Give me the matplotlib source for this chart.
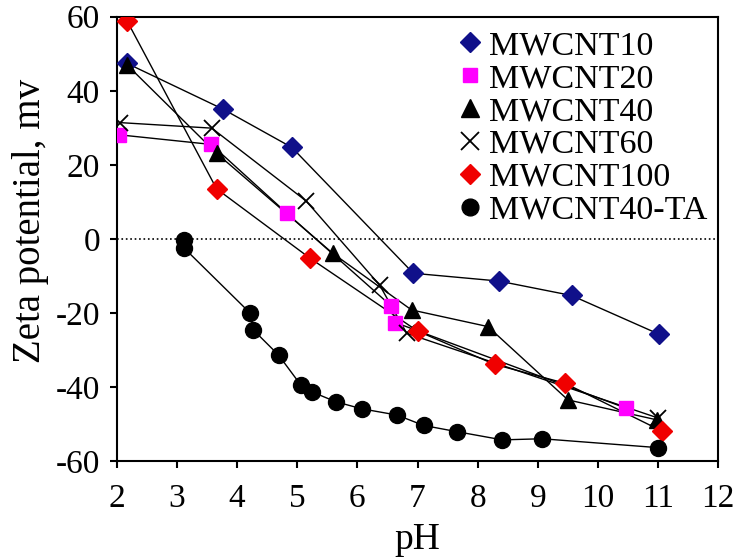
import matplotlib
matplotlib.use('Agg')
import matplotlib.pyplot as plt
from matplotlib.lines import Line2D

plt.rcParams['font.family'] = ['Liberation Serif', 'DejaVu Serif']
plt.rcParams['axes.unicode_minus'] = False

# pH values and zeta potential (mV)
ph_10 = [2.17, 3.77, 4.91, 6.93, 8.35, 9.56, 11.02]
zeta_10 = [47.4, 35.0, 24.7, -9.3, -11.4, -15.3, -25.8]

ph_20 = [2.04, 3.57, 4.83, 6.56, 6.63, 10.46]
zeta_20 = [28.1, 25.5, 6.9, -18.1, -22.6, -45.7]

ph_40 = [2.17, 3.66, 5.59, 6.90, 8.17, 9.50, 10.98]
zeta_40 = [47.0, 23.1, -3.9, -19.2, -23.7, -43.5, -48.9]

ph_60 = [2.05, 3.58, 5.15, 6.37, 6.82, 11.0]
zeta_60 = [31.4, 29.9, 10.2, -12.5, -25.5, -48.4]

ph_100 = [2.17, 3.66, 5.21, 7.0, 8.28, 9.45, 11.06]
zeta_100 = [58.9, 13.5, -5.2, -24.9, -33.9, -39.0, -51.9]

ph_ta = [3.12, 3.12, 4.22, 4.27, 4.69, 5.06, 5.24, 5.64, 6.07, 6.66, 7.10,
         7.66, 8.41, 9.07, 11.0]
zeta_ta = [-0.3, -2.5, -20.1, -24.6, -31.4, -39.5, -41.3, -44.0, -45.9, -47.6,
           -50.4, -52.1, -54.3, -54.0, -56.4]

labels = ['MWCNT10', 'MWCNT20', 'MWCNT40', 'MWCNT60', 'MWCNT100', 'MWCNT40-TA']

fig = plt.figure(figsize=(7.39, 5.57), dpi=100)
ax = fig.add_axes([0.158, 0.1724, 0.814, 0.7976])

ax.axhline(0, color='black', linestyle=':', linewidth=1.2, zorder=1)

# x, y, marker, size, colour, edge width
series = [
    (ph_10, zeta_10, 'D', 10, '#10108a', 1),
    (ph_20, zeta_20, 's', 10, '#ff00ff', 1),
    (ph_40, zeta_40, '^', 12, 'black', 1),
    (ph_60, zeta_60, 'x', 12, 'black', 1.3),
    (ph_100, zeta_100, 'D', 10, '#f00000', 1),
    (ph_ta, zeta_ta, 'o', 11.5, 'black', 1),
]

handles = []
for (x, y, m, ms, c, mew), lab in zip(series, labels):
    ax.plot(x, y, color='black', linewidth=1.0, zorder=2)
    if m == 'x':
        ax.plot(x, y, linestyle='none', marker=m, markersize=ms,
                markeredgecolor=c, markeredgewidth=mew, zorder=3)
    else:
        ax.plot(x, y, linestyle='none', marker=m, markersize=ms,
                markerfacecolor=c, markeredgecolor=c, zorder=3)
    handles.append(Line2D([], [], linestyle='none', marker=m, markersize=ms * 1.05,
                          markerfacecolor=c, markeredgecolor=c,
                          markeredgewidth=mew, label=lab))

ax.set_xlim(2, 12)
ax.set_ylim(-60, 60)
ax.set_xticks(range(2, 13))
ax.set_yticks(range(-60, 61, 20))
ax.tick_params(direction='out', length=5, width=1.5, labelsize=24)
ax.tick_params(axis='x', pad=11)
ax.tick_params(axis='y', pad=7)
for s in ax.spines.values():
    s.set_linewidth(1.5)

ax.set_xlabel('pH', fontsize=27, labelpad=6)
ax.set_ylabel('Zeta potential, mv', fontsize=28, labelpad=6)
ax.yaxis.set_label_coords(-0.112, 0.54)

ax.legend(handles=handles, loc='upper right', bbox_to_anchor=(1.015, 1.015),
          frameon=False, fontsize=24.5, handlelength=0.8, handletextpad=0.15,
          labelspacing=0.06, borderaxespad=0.2)

fig.savefig('out.png', dpi=100)
